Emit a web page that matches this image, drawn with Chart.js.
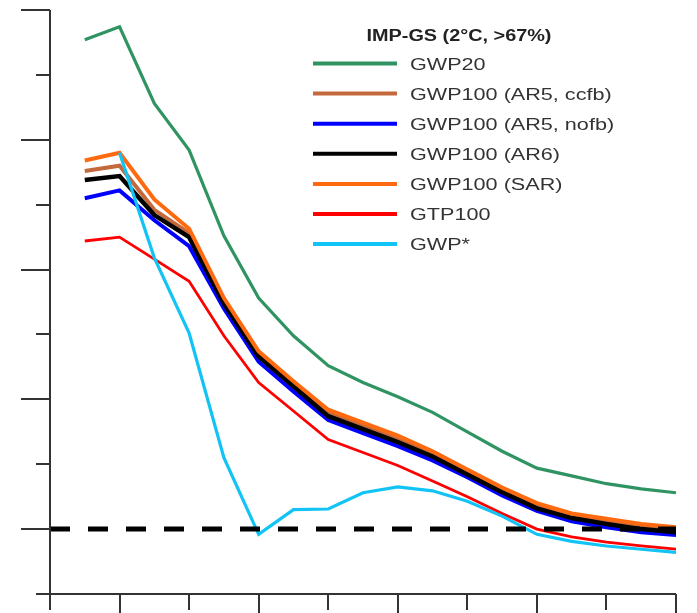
<!DOCTYPE html>
<html>
<head>
<meta charset="utf-8">
<script src="https://cdn.jsdelivr.net/npm/chart.js@4.4.1/dist/chart.umd.min.js"></script>
<style>
  body { margin: 0; background: #fff; }
  #wrap { width: 697px; height: 613px; }
</style>
</head>
<body>
<div id="wrap"><canvas id="chart" width="697" height="613"></canvas></div>
<script>
// net emissions, IMP-GS pathway, under each metric
const years = [2015, 2020, 2025, 2030, 2035, 2040, 2045, 2050, 2055, 2060, 2065, 2070, 2075, 2080, 2085, 2090, 2095, 2100];
const gwp20   = [37.7, 38.7, 32.8, 29.2, 22.6, 17.8, 14.9, 12.6, 11.3, 10.2, 9.0, 7.5, 6.0, 4.7, 4.1, 3.5, 3.1, 2.8];
const ar5ccfb = [27.6, 28.0, 24.6, 22.8, 17.6, 13.5, 11.2, 8.95, 7.95, 6.9, 5.8, 4.4, 3.0, 1.8, 1.0, 0.55, 0.15, -0.1];
const ar5nofb = [25.5, 26.1, 23.8, 21.8, 17.0, 12.9, 10.6, 8.4, 7.4, 6.4, 5.3, 4.0, 2.6, 1.4, 0.6, 0.15, -0.25, -0.45];
const ar6     = [26.9, 27.2, 24.2, 22.5, 17.4, 13.3, 11.0, 8.7, 7.7, 6.7, 5.6, 4.2, 2.85, 1.6, 0.85, 0.4, 0.0, -0.25];
const sar     = [28.4, 29.0, 25.4, 23.15, 17.8, 13.7, 11.4, 9.2, 8.2, 7.2, 6.0, 4.6, 3.2, 2.0, 1.2, 0.8, 0.4, 0.15];
const gtp100  = [22.2, 22.5, 20.8, 19.1, 14.9, 11.3, 9.1, 6.9, 5.9, 4.9, 3.7, 2.5, 1.2, 0.0, -0.6, -1.0, -1.3, -1.55];
const gwpStar = [null, 29.0, 20.9, 15.1, 5.5, -0.4, 1.5, 1.55, 2.8, 3.25, 2.95, 2.15, 1.0, -0.4, -0.95, -1.3, -1.55, -1.8];

const xTicks = [2010, 2020, 2030, 2040, 2050, 2060, 2070, 2080, 2090, 2100];
const yTicks = [-5, 0, 5, 10, 15, 20, 25, 30, 35, 40];

const legendTitle = 'IMP-GS (2°C, >67%)';

const toPoints = arr => years.map((y, i) => ({ x: y, y: arr[i] }));

const series = [
  { label: 'GWP20', data: gwp20, color: '#2f9462', width: 3.2, order: 6 },
  { label: 'GWP100 (AR5, ccfb)', data: ar5ccfb, color: '#c4693b', width: 4, order: 5 },
  { label: 'GWP100 (AR5, nofb)', data: ar5nofb, color: '#0000ff', width: 4, order: 4 },
  { label: 'GWP100 (AR6)', data: ar6, color: '#000000', width: 4.5, order: 3 },
  { label: 'GWP100 (SAR)', data: sar, color: '#ff6a10', width: 4, order: 2 },
  { label: 'GTP100', data: gtp100, color: '#ff0000', width: 2.8, order: 1 },
  { label: 'GWP*', data: gwpStar, color: '#12c3f5', width: 3.2, order: 0 }
];

const datasets = series.map(s => ({
  label: s.label,
  data: toPoints(s.data),
  borderColor: s.color,
  backgroundColor: s.color,
  borderWidth: s.width,
  order: s.order,
  pointRadius: 0,
  tension: 0,
  spanGaps: false
}));

// dashed zero line
datasets.push({
  label: 'zero',
  data: [{ x: xTicks[0], y: 0 }, { x: xTicks[xTicks.length - 1], y: 0 }],
  borderColor: '#000',
  borderWidth: 5,
  borderDash: [20, 18],
  pointRadius: 0,
  order: -1
});

// axis lines + long/short outside ticks
const axesPlugin = {
  id: 'axes',
  afterDraw(chart) {
    const { ctx, chartArea: a } = chart;
    const xs = chart.scales.x, ys = chart.scales.y;
    ctx.save();
    ctx.strokeStyle = '#333';
    ctx.lineWidth = 2;
    ctx.beginPath();
    ctx.moveTo(a.left, a.top);
    ctx.lineTo(a.left, a.bottom);
    ctx.lineTo(a.right, a.bottom);
    yTicks.forEach(v => {
      const py = Math.round(ys.getPixelForValue(v));
      const len = v % 10 === 0 ? 29 : 14;
      ctx.moveTo(a.left - len, py);
      ctx.lineTo(a.left, py);
    });
    xTicks.forEach(v => {
      const px = Math.round(xs.getPixelForValue(v));
      const len = ((v - 2010) / 10) % 2 === 1 ? 19 : 16;
      ctx.moveTo(px, a.bottom);
      ctx.lineTo(px, a.bottom + len);
    });
    ctx.stroke();
    ctx.restore();
  }
};

// legend block inside the plot
const legendPlugin = {
  id: 'boxLegend',
  afterDraw(chart) {
    const ctx = chart.ctx;
    ctx.save();
    ctx.fillStyle = '#222';
    ctx.textBaseline = 'alphabetic';
    ctx.font = 'bold 16px "Liberation Sans", Arial, sans-serif';
    let w = ctx.measureText(legendTitle).width;
    ctx.save();
    ctx.translate(459, 41);
    ctx.scale(1.24, 1);
    ctx.fillText(legendTitle, -w / 2, 0);
    ctx.restore();

    ctx.font = '16px "Liberation Sans", Arial, sans-serif';
    ctx.fillStyle = '#333';
    series.forEach((s, i) => {
      const y = 63.5 + i * 30.1;
      ctx.strokeStyle = s.color;
      ctx.lineWidth = 4;
      ctx.beginPath();
      ctx.moveTo(313, y);
      ctx.lineTo(397, y);
      ctx.stroke();
      ctx.save();
      ctx.translate(410, y + 6);
      ctx.scale(1.35, 1);
      ctx.fillText(s.label, 0, 0);
      ctx.restore();
    });
    ctx.restore();
  }
};

new Chart(document.getElementById('chart').getContext('2d'), {
  type: 'line',
  data: { datasets },
  options: {
    responsive: false,
    animation: false,
    layout: { padding: { left: 50, right: 21, top: 10, bottom: 19 } },
    plugins: { legend: { display: false }, tooltip: { enabled: false } },
    scales: {
      x: { type: 'linear', min: 2010, max: 2100, display: false },
      y: { type: 'linear', min: -5, max: 40, display: false }
    }
  },
  plugins: [axesPlugin, legendPlugin]
});
</script>
</body>
</html>
